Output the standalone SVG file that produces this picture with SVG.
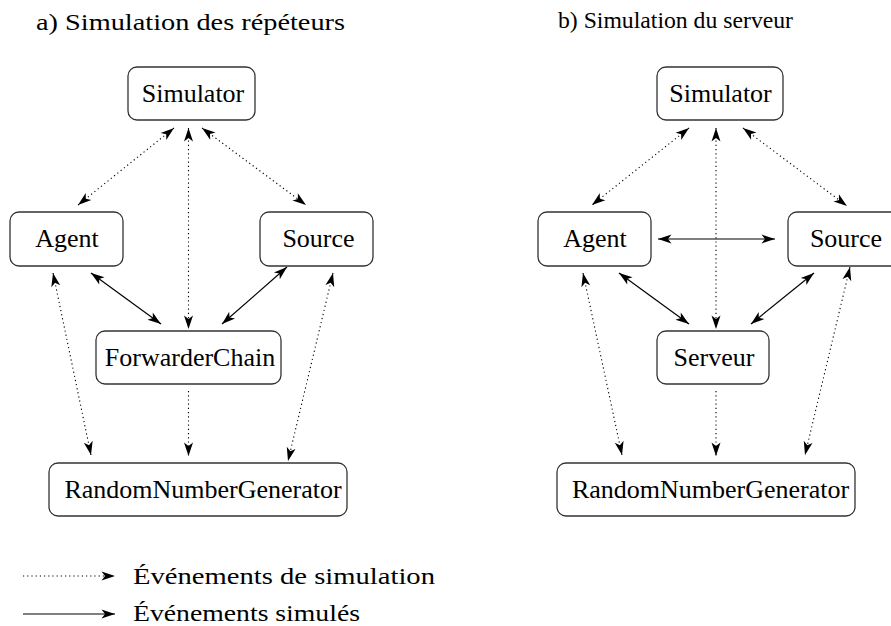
<svg xmlns="http://www.w3.org/2000/svg" width="891" height="626" viewBox="0 0 891 626">
<defs>
<marker id="ah" markerUnits="userSpaceOnUse" markerWidth="15" markerHeight="10" refX="13.5" refY="4.5" orient="auto-start-reverse" overflow="visible">
<path d="M0,0 L13.5,4.5 L0,9 L3.5,4.5 Z" fill="#000"/>
</marker>
<style>
.box{fill:#fff;stroke:#333;stroke-width:1.3}
.lbl{font-family:"Liberation Serif","Times New Roman",serif;font-size:26px;fill:#000;text-anchor:middle}
.cm{font-family:"Liberation Serif","Times New Roman",serif;font-size:23px;fill:#000}
.dot{fill:none;stroke:#000;stroke-width:1.1;stroke-dasharray:1.2 3}
.sol{fill:none;stroke:#000;stroke-width:1.2}
.bi{marker-start:url(#ah);marker-end:url(#ah)}
.one{marker-end:url(#ah)}
</style>
</defs>
<rect width="891" height="626" fill="#fff"/>
<text class="cm" x="36" y="30" textLength="309" lengthAdjust="spacingAndGlyphs">a) Simulation des répéteurs</text>
<text x="558" y="28" font-family="'Liberation Serif','Times New Roman',serif" font-size="23.5" textLength="235" lengthAdjust="spacingAndGlyphs">b) Simulation du serveur</text>

<g id="connectors">
<!-- panel a -->
<line class="dot bi" x1="174" y1="128" x2="78" y2="205"/>
<line class="dot bi" x1="188.5" y1="128" x2="188.5" y2="329"/>
<line class="dot bi" x1="202" y1="128" x2="306" y2="205"/>
<line class="sol bi" x1="91" y1="273" x2="161" y2="324"/>
<line class="sol bi" x1="287" y1="267" x2="222" y2="324"/>
<line class="dot bi" x1="53" y1="273" x2="91" y2="455"/>
<line class="dot bi" x1="333" y1="273" x2="288" y2="461"/>
<line class="dot one" x1="188.5" y1="391" x2="188.5" y2="456"/>
<!-- panel b -->
<line class="dot bi" x1="689" y1="128" x2="592" y2="205"/>
<line class="dot bi" x1="716" y1="128" x2="716" y2="329"/>
<line class="dot bi" x1="743" y1="128" x2="847" y2="206"/>
<line class="sol bi" x1="658" y1="239" x2="775" y2="239"/>
<line class="sol bi" x1="619" y1="273" x2="689" y2="324"/>
<line class="sol bi" x1="814" y1="273" x2="751" y2="324"/>
<line class="dot bi" x1="583" y1="273" x2="622" y2="455"/>
<line class="dot bi" x1="850" y1="267" x2="805" y2="455"/>
<line class="dot one" x1="716" y1="391" x2="716" y2="456"/>
<!-- legend -->
<line class="dot one" x1="23" y1="576" x2="115" y2="576"/>
<line class="sol one" x1="23" y1="614" x2="115" y2="614"/>
</g>

<g id="a-simulator"><rect class="box" x="128" y="67" width="127" height="53" rx="9"/><text class="lbl" x="193" y="102">Simulator</text></g>
<g id="a-agent"><rect class="box" x="10" y="212" width="113" height="54" rx="9"/><text class="lbl" x="67" y="247">Agent</text></g>
<g id="a-source"><rect class="box" x="260" y="212" width="113" height="54" rx="9"/><text class="lbl" x="318.5" y="247">Source</text></g>
<g id="a-forwarderchain"><rect class="box" x="96" y="331" width="185" height="53" rx="9"/><text class="lbl" x="190" y="366">ForwarderChain</text></g>
<g id="a-rng"><rect class="box" x="49" y="463" width="298" height="53" rx="9"/><text class="lbl" x="203" y="498">RandomNumberGenerator</text></g>

<g id="b-simulator"><rect class="box" x="657" y="67" width="126" height="53" rx="9"/><text class="lbl" x="720.5" y="102">Simulator</text></g>
<g id="b-agent"><rect class="box" x="538" y="212" width="113" height="54" rx="9"/><text class="lbl" x="595" y="247">Agent</text></g>
<g id="b-source"><rect class="box" x="788" y="212" width="113" height="54" rx="9"/><text class="lbl" x="846" y="247">Source</text></g>
<g id="b-serveur"><rect class="box" x="657" y="331" width="112" height="53" rx="9"/><text class="lbl" x="714" y="366">Serveur</text></g>
<g id="b-rng"><rect class="box" x="557" y="463" width="298" height="53" rx="9"/><text class="lbl" x="710.5" y="498">RandomNumberGenerator</text></g>

<g id="legend">
<text class="cm" x="133" y="584" textLength="302" lengthAdjust="spacingAndGlyphs">Événements de simulation</text>
<text class="cm" x="133" y="621" textLength="227" lengthAdjust="spacingAndGlyphs">Événements simulés</text>
</g>
</svg>
